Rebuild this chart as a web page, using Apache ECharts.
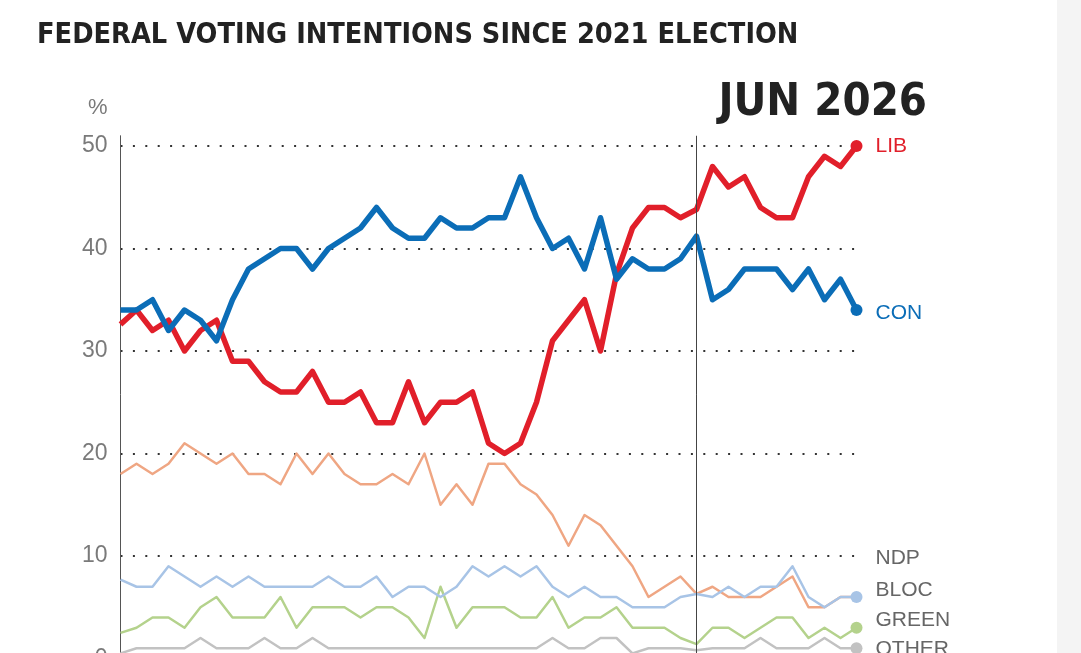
<!DOCTYPE html>
<html>
<head>
<meta charset="utf-8">
<script src="https://cdn.jsdelivr.net/npm/echarts@6/dist/echarts.min.js"></script>
<style>
  html, body { margin: 0; padding: 0; background: #fff; }
  #chart { width: 1081px; height: 653px; }
  #strip { position: absolute; left: 1057px; top: 0; width: 24px; height: 653px; background: #f4f4f4; }
</style>
</head>
<body>
<div id="chart"></div>
<div id="strip"></div>
<script>
// one entry per poll period, oldest first; the vertical rule marks period 37
const periods = Array.from({ length: 47 }, (_, i) => String(i + 1));
const markerPeriod = periods[36];

const lib = [32.6, 34, 32, 33, 30, 32, 33, 29, 29, 27, 26, 26, 28, 25, 25, 26, 23, 23, 27, 23,
  25, 25, 26, 21, 20, 21, 25, 31, 33, 35, 30, 37.5, 42, 44, 44, 43, 43.8, 48, 46, 47,
  44, 43, 43, 47, 49, 48, 50];
const con = [34, 34, 35, 32, 34, 33, 31, 35, 38, 39, 40, 40, 38, 40, 41, 42, 44, 42, 41, 41,
  43, 42, 42, 43, 43, 47, 43, 40, 41, 38, 43, 37, 39, 38, 38, 39, 41.2, 35, 36, 38,
  38, 38, 36, 38, 35, 37, 34];
const ndp = [18, 19, 18, 19, 21, 20, 19, 20, 18, 18, 17, 20, 18, 20, 18, 17, 17, 18, 17, 20,
  15, 17, 15, 19, 19, 17, 16, 14, 11, 14, 13, 11, 9, 6, 7, 8, 6.3, 7, 6, 6,
  6, 7, 8, 5, 5, 6, 6];
const bloc = [7.7, 7, 7, 9, 8, 7, 8, 7, 8, 7, 7, 7, 7, 8, 7, 7, 8, 6, 7, 7,
  6, 7, 9, 8, 9, 8, 9, 7, 6, 7, 6, 6, 5, 5, 5, 6, 6.3, 6, 7, 6,
  7, 7, 9, 6, 5, 6, 6];
const green = [2.5, 3, 4, 4, 3, 5, 6, 4, 4, 4, 6, 3, 5, 5, 5, 4, 5, 5, 4, 2,
  7, 3, 5, 5, 5, 4, 4, 6, 3, 4, 4, 5, 3, 3, 3, 2, 1.4, 3, 3, 2,
  3, 4, 4, 2, 3, 2, 3];
const other = [0.5, 1, 1, 1, 1, 2, 1, 1, 1, 2, 1, 1, 2, 1, 1, 1, 1, 1, 1, 1,
  1, 1, 1, 1, 1, 1, 1, 2, 1, 1, 2, 2, 0.5, 1, 1, 1, 0.8, 1, 1, 1,
  2, 1, 1, 1, 2, 1, 1];

const yTicks = [0, 10, 20, 30, 40, 50];

const FONT = '"Liberation Sans", Arial, sans-serif';
const NARROW = '"Liberation Sans Narrow", "DejaVu Sans Condensed", "Liberation Sans", sans-serif';

const makeLine = (name, values, color, width, labelColor, labelOffset, dot) => ({
  name,
  type: 'line',
  data: values.map((v, i) =>
    dot && i === values.length - 1 ? { value: v, symbol: 'circle', symbolSize: 12 } : v),
  symbol: 'none',
  showAllSymbol: true,
  lineStyle: { color, width, join: 'round' },
  itemStyle: { color },
  emphasis: { disabled: true },
  endLabel: {
    show: true,
    formatter: name,
    color: labelColor,
    fontFamily: FONT,
    fontSize: 21,
    distance: 19,
    offset: labelOffset
  }
});

const chart = echarts.init(document.getElementById('chart'));

const series = [
  makeLine('OTHER', other, '#c2c2c2', 2.5, '#666', [0, 1], true),
  makeLine('GREEN', green, '#b4d28c', 2.5, '#666', [0, -8], true),
  makeLine('NDP', ndp, '#efa683', 2.5, '#666', [0, -39], false),
  makeLine('BLOC', bloc, '#a8c4e6', 2.5, '#666', [0, -7], true),
  makeLine('LIB', lib, '#e11f2a', 5.5, '#e11f2a', [0, 0], true),
  makeLine('CON', con, '#0b6db7', 5.5, '#0b6db7', [0, 3], true)
];
series[4].markLine = {
  silent: true,
  symbol: 'none',
  label: { show: false },
  lineStyle: { color: '#444', width: 1, type: 'solid' },
  data: [{ xAxis: markerPeriod }]
};

chart.setOption({
  animation: false,
  backgroundColor: '#fff',
  title: [
    {
      text: 'FEDERAL VOTING INTENTIONS SINCE 2021 ELECTION',
      left: 37, top: 21, padding: 0,
      textStyle: { fontFamily: NARROW, fontWeight: 'bold', fontSize: 28.6, color: '#222' }
    },
    {
      text: 'JUN 2026',
      right: 154, top: 81, padding: 0,
      textStyle: { fontFamily: NARROW, fontWeight: 'bold', fontSize: 45, color: '#222' }
    }
  ],
  grid: { left: 120.5, top: 135.75, width: 736, height: 522.75, outerBoundsMode: 'none' },
  xAxis: {
    type: 'category',
    data: periods,
    boundaryGap: false,
    axisLine: { show: false },
    axisTick: { show: false },
    axisLabel: { show: false },
    splitLine: { show: false }
  },
  yAxis: {
    type: 'value',
    min: 0, max: 51, interval: 10,
    name: '%',
    nameLocation: 'end',
    nameGap: 28,
    nameTextStyle: {
      color: '#7a7a7a', fontFamily: FONT, fontSize: 22,
      align: 'right', verticalAlign: 'middle', padding: [0, 13, 0, 0]
    },
    axisLine: { show: true, lineStyle: { color: '#555', width: 1 } },
    axisTick: { show: false },
    axisLabel: {
      color: '#7a7a7a', fontFamily: FONT, fontSize: 23, margin: 13,
      showMaxLabel: false,
      formatter: (v) => (yTicks.includes(v) ? String(v) : '')
    },
    splitLine: {
      show: true,
      showMaxLine: false,
      lineStyle: { color: '#333', width: 2, type: [2, 10.4] }
    }
  },
  series
});
</script>
</body>
</html>
